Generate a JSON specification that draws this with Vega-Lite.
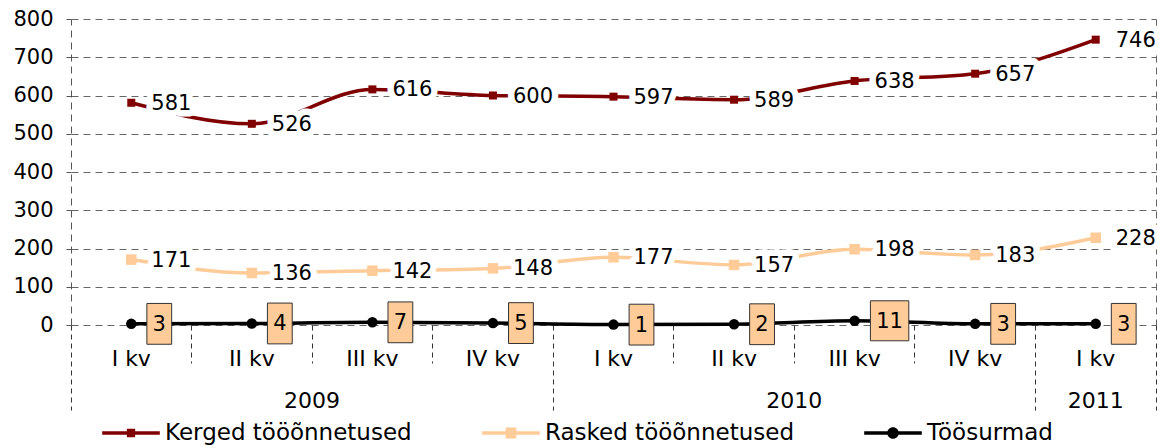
{
  "$schema": "https://vega.github.io/schema/vega-lite/v6.json",
  "width": 1085,
  "height": 306,
  "autosize": "none",
  "padding": {"left": 71, "top": 19, "right": 2, "bottom": 122},
  "background": "white",
  "config": {
    "view": {"stroke": null},
    "font": "DejaVu Sans",
    "axis": {"labelFont": "DejaVu Sans", "labelFontSize": 21, "labelColor": "#000000", "labelAngle": 0, "labelOverlap": false},
    "legend": {"labelFont": "DejaVu Sans"}
  },
  "data": {
    "values": [
      {"period": "2009 I kv", "series": "Kerged tööõnnetused", "value": 581},
      {"period": "2009 II kv", "series": "Kerged tööõnnetused", "value": 526},
      {"period": "2009 III kv", "series": "Kerged tööõnnetused", "value": 616},
      {"period": "2009 IV kv", "series": "Kerged tööõnnetused", "value": 600},
      {"period": "2010 I kv", "series": "Kerged tööõnnetused", "value": 597},
      {"period": "2010 II kv", "series": "Kerged tööõnnetused", "value": 589},
      {"period": "2010 III kv", "series": "Kerged tööõnnetused", "value": 638},
      {"period": "2010 IV kv", "series": "Kerged tööõnnetused", "value": 657},
      {"period": "2011 I kv", "series": "Kerged tööõnnetused", "value": 746},
      {"period": "2009 I kv", "series": "Rasked tööõnnetused", "value": 171},
      {"period": "2009 II kv", "series": "Rasked tööõnnetused", "value": 136},
      {"period": "2009 III kv", "series": "Rasked tööõnnetused", "value": 142},
      {"period": "2009 IV kv", "series": "Rasked tööõnnetused", "value": 148},
      {"period": "2010 I kv", "series": "Rasked tööõnnetused", "value": 177},
      {"period": "2010 II kv", "series": "Rasked tööõnnetused", "value": 157},
      {"period": "2010 III kv", "series": "Rasked tööõnnetused", "value": 198},
      {"period": "2010 IV kv", "series": "Rasked tööõnnetused", "value": 183},
      {"period": "2011 I kv", "series": "Rasked tööõnnetused", "value": 228},
      {"period": "2009 I kv", "series": "Töösurmad", "value": 3},
      {"period": "2009 II kv", "series": "Töösurmad", "value": 4},
      {"period": "2009 III kv", "series": "Töösurmad", "value": 7},
      {"period": "2009 IV kv", "series": "Töösurmad", "value": 5},
      {"period": "2010 I kv", "series": "Töösurmad", "value": 1},
      {"period": "2010 II kv", "series": "Töösurmad", "value": 2},
      {"period": "2010 III kv", "series": "Töösurmad", "value": 11},
      {"period": "2010 IV kv", "series": "Töösurmad", "value": 3},
      {"period": "2011 I kv", "series": "Töösurmad", "value": 3}
    ]
  },
  "encoding": {
    "y": {"field": "value", "type": "quantitative", "title": null,
      "scale": {"domain": [0, 800], "nice": false, "zero": true},
      "axis": {"values": [0,100,200,300,400,500,600,700,800], "grid": true, "gridDash": [7, 5], "gridColor": "#666666",
        "domain": true, "domainDash": [7, 5], "domainColor": "#555555", "tickSize": 5, "tickColor": "#555555",
        "labelPadding": 13, "labelFontSize": 21, "labelColor": "#000000", "labelOverlap": false}}
  },
  "resolve": {"axis": {"x": "independent"}},
  "layer": [
    {
      "mark": {"type": "line", "interpolate": "monotone", "strokeWidth": 3.5},
      "encoding": {
        "x": {"field": "period", "type": "ordinal", "title": null,
          "scale": {"type": "band", "domain": ["2009 I kv","2009 II kv","2009 III kv","2009 IV kv","2010 I kv","2010 II kv","2010 III kv","2010 IV kv","2011 I kv"], "paddingInner": 0, "paddingOuter": 0},
          "axis": {"orient": "bottom", "bandPosition": 0, "labels": false, "domain": false, "grid": false, "ticks": true,
            "tickSize": {"condition": {"test": "indexof(['2009 I kv','2010 I kv','2011 I kv'], datum.value) >= 0", "value": 85}, "value": 38},
            "tickDash": [5, 4], "tickColor": "#333333", "tickWidth": 1}},
        "color": {"field": "series", "type": "nominal",
          "scale": {"domain": ["Kerged tööõnnetused", "Rasked tööõnnetused", "Töösurmad"], "range": ["#800000", "#FFCC99", "#000000"]},
          "legend": {"orient": "none", "legendX": 42, "legendY": 396, "direction": "horizontal", "title": null,
            "labelFontSize": 23, "labelColor": "#000000", "labelLimit": 0, "symbolSize": 1296, "labelOffset": 16, "columnPadding": 70,
            "symbolStrokeWidth": 0, "symbolOpacity": 1,
            "encode": {"symbols": {"update": {
              "shape": {"signal": "datum.value === 'Töösurmad' ? 'M-1.6,-0.1H1.6V0.1H-1.6Z M0.32,0A0.32,0.32 0 1,1 -0.32,0A0.32,0.32 0 1,1 0.32,0Z' : (datum.value === 'Kerged tööõnnetused' ? 'M-1.6,-0.1H1.6V0.1H-1.6Z M-0.23,-0.23H0.23V0.23H-0.23Z' : 'M-1.6,-0.1H1.6V0.1H-1.6Z M-0.3,-0.3H0.3V0.3H-0.3Z')"},
              "fill": {"scale": "color", "field": "value"},
              "stroke": {"value": "transparent"},
              "opacity": {"value": 1}}}}}}
      }
    },
    {
      "transform": [{"filter": "datum.series !== 'Töösurmad'"}],
      "mark": {"type": "point", "shape": "square", "filled": true, "opacity": 1},
      "encoding": {
        "x": {"field": "period", "type": "ordinal", "title": null,
          "axis": {"orient": "bottom", "bandPosition": 0.5, "ticks": false, "tickSize": 0, "domain": false, "grid": false,
            "labelExpr": "slice(datum.label, 5)", "labelPadding": 23, "labelFontSize": 22, "labelColor": "#000000"}},
        "color": {"field": "series", "type": "nominal"},
        "size": {"condition": {"test": "datum.series === 'Kerged tööõnnetused'", "value": 64}, "value": 110}
      }
    },
    {
      "transform": [{"filter": "datum.series === 'Töösurmad'"}],
      "mark": {"type": "point", "shape": "circle", "filled": true, "opacity": 1, "size": 110},
      "encoding": {
        "x": {"field": "period", "type": "ordinal", "title": null,
          "axis": {"orient": "bottom", "bandPosition": 1, "values": ["2011 I kv"], "labels": false, "ticks": true, "tickSize": 85,
            "tickDash": [5, 4], "tickColor": "#333333", "domain": false,
            "grid": true, "gridDash": [7, 5], "gridColor": "#666666"}},
        "color": {"field": "series", "type": "nominal"}
      }
    },
    {
      "transform": [{"filter": "datum.series !== 'Töösurmad'"}],
      "mark": {"type": "text", "align": "left", "baseline": "middle", "dx": 20, "dy": 1, "fontSize": 21,
        "fill": "white", "stroke": "white", "strokeWidth": 13, "strokeJoin": "round"},
      "encoding": {
        "x": {"field": "period", "type": "ordinal", "title": null,
          "axis": {"orient": "bottom", "values": ["2009 III kv", "2010 III kv"], "ticks": false, "tickSize": 0,
            "domain": false, "grid": false, "labelExpr": "slice(datum.label, 0, 4)", "labelPadding": 65, "labelOffset": -60.28,
            "labelFontSize": 22, "labelColor": "#000000"}},
        "text": {"field": "value", "type": "quantitative"}
      }
    },
    {
      "transform": [{"filter": "datum.series !== 'Töösurmad'"}],
      "mark": {"type": "text", "align": "left", "baseline": "middle", "dx": 20, "dy": 1, "fontSize": 21, "color": "#000000"},
      "encoding": {
        "x": {"field": "period", "type": "ordinal", "title": null,
          "axis": {"orient": "bottom", "values": ["2011 I kv"], "ticks": false, "tickSize": 0,
            "domain": false, "grid": false, "labelExpr": "slice(datum.label, 0, 4)", "labelPadding": 65,
            "labelFontSize": 22, "labelColor": "#000000"}},
        "text": {"field": "value", "type": "quantitative"}
      }
    },
    {
      "transform": [{"filter": "datum.series === 'Töösurmad'"}],
      "mark": {"type": "point", "filled": true, "fill": "#FFCC99", "stroke": "#333333", "strokeWidth": 1, "opacity": 1, "size": 400, "xOffset": 28},
      "encoding": {
        "x": {"field": "period", "type": "ordinal", "axis": null},
        "shape": {"condition": {"test": "datum.value >= 10", "value": "M-1.22,-2H2.62V2H-1.22Z"}, "value": "M-1.24,-2.04H1.24V2.04H-1.24Z"}
      }
    },
    {
      "transform": [{"filter": "datum.series === 'Töösurmad' && datum.value < 10"}],
      "mark": {"type": "text", "align": "center", "baseline": "middle", "fontSize": 21, "color": "#000000", "xOffset": 28, "dy": 1},
      "encoding": {
        "x": {"field": "period", "type": "ordinal", "axis": null},
        "text": {"field": "value", "type": "quantitative"}
      }
    },
    {
      "transform": [{"filter": "datum.series === 'Töösurmad' && datum.value >= 10"}],
      "mark": {"type": "text", "align": "center", "baseline": "middle", "fontSize": 21, "color": "#000000", "xOffset": 35, "dy": 1},
      "encoding": {
        "x": {"field": "period", "type": "ordinal", "axis": null},
        "text": {"field": "value", "type": "quantitative"}
      }
    }
  ]
}
